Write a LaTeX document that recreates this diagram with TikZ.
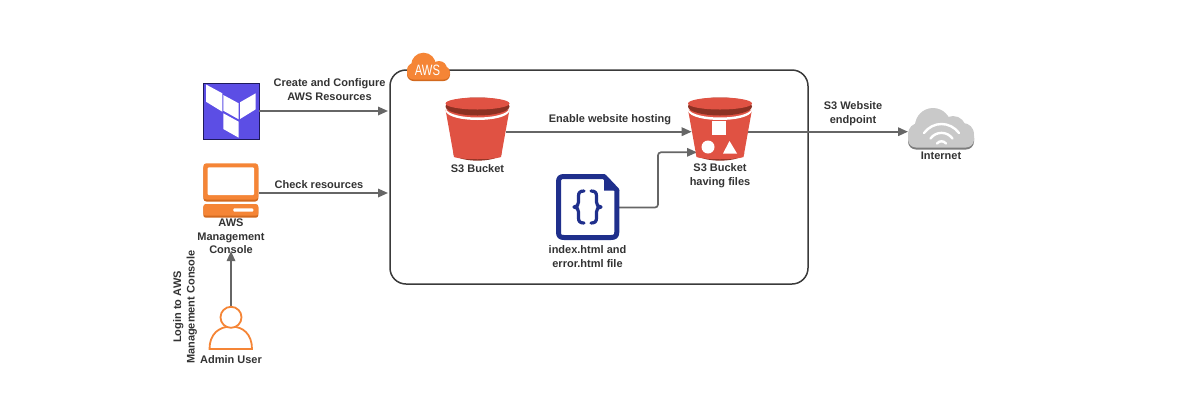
\documentclass[tikz,border=0pt]{standalone}
\usepackage{fontspec}
\setmainfont{Liberation Sans}
\usetikzlibrary{arrows.meta}
\definecolor{txt}{HTML}{333333}
\definecolor{conn}{HTML}{666666}
\definecolor{frame}{HTML}{3A3A3A}
\definecolor{tfblue}{HTML}{5C4EE5}
\definecolor{tfdark}{HTML}{1E1A5C}
\definecolor{orng}{HTML}{F58536}
\definecolor{orngd}{HTML}{D2691E}
\definecolor{s3red}{HTML}{E05243}
\definecolor{s3dark}{HTML}{8C3123}
\definecolor{navy}{HTML}{1F2F8C}
\definecolor{cloudl}{HTML}{C9C9C9}
\definecolor{cloudd}{HTML}{7D7D7D}
\tikzset{
  lbl/.style={font=\fontsize{11}{13.5}\selectfont\bfseries, text=txt, align=center, inner sep=0pt},
  conn/.style={draw=conn, line width=1.7pt, -{Triangle[length=10pt,width=8.5pt]}, rounded corners=3pt},
  slot/.style={inner sep=0pt, outer sep=0pt},
  bucket/.pic={
    \fill[s3dark] (-24.5,20) .. controls (-20,29.5) and (20,29.5) .. (24.5,20) -- cycle;
    \fill[s3red] (-32,-24) -- (-23.5,23.5) .. controls (-15,26.5) and (15,26.5) .. (23.5,23.5) -- (32,-24) -- cycle;
    \fill[white] (-32,-25) .. controls (-28,-13) and (28,-13) .. (32,-25) -- (32,-22.5) .. controls (28,-10.5) and (-28,-10.5) .. (-32,-22.5) -- cycle;
    \fill[s3dark] (0,-27) ellipse [x radius=32, y radius=9];
    \fill[s3red] (0,-30) ellipse [x radius=32, y radius=6];
  },
  aws cloud/.pic={
    \foreach \dy/\col in {1.5/orngd,0/orng}{
      \begin{scope}[yshift=-\dy pt]
        \fill[\col, rounded corners=6.5pt] (407,66) rectangle (450,79.5);
        \fill[\col] (423.5,65) circle [radius=12.3];
        \fill[\col] (439,69) circle [radius=8];
        \fill[\col] (414,70) circle [radius=7];
      \end{scope}
    }
  },
}
\begin{document}
\begin{tikzpicture}[x=1pt,y=-1pt]
\useasboundingbox (0,0) rectangle (1202,408);

% frame
\node[slot, draw=frame, line width=1.5pt, rounded corners=16pt, minimum width=418pt, minimum height=214pt] (aws) at (599,177) {};

% anchors for the connectors
\node[slot, draw=tfdark, fill=tfblue, line width=1pt, minimum width=56pt, minimum height=56pt] (tf) at (231,111) {};
\node[slot, minimum width=56pt, minimum height=42pt] (mon) at (231,193) {};
\node[slot, minimum width=44pt, minimum height=44pt] (user) at (231,329) {};
\node[slot, minimum width=56.6pt, minimum height=64pt] (b1) at (477.5,131.7) {};
\node[slot, minimum width=56.6pt, minimum height=64pt] (b2) at (720,131.7) {};
\node[slot, minimum width=63pt, minimum height=66pt] (file) at (587.5,207.5) {};
\node[slot, minimum width=66pt, minimum height=47.4pt] (inet) at (941,131.7) {};
\coordinate (b2in) at (697,152.3);
\coordinate (elbow) at (658,207.5);

% labels
\node[lbl] (tc) at (231,236.5) {AWS\\Management\\Console};
\node[lbl] (au) at (231,360) {Admin User};
\node[lbl, rotate=90] (lg) at (185,307) {Login to AWS\\Management Console};
\node[lbl] (cc) at (329.5,89.5) {Create and Configure\\AWS Resources};
\node[lbl] (cr) at (319,184.5) {Check resources};
\node[lbl] (s1) at (477.5,168.5) {S3 Bucket};
\node[lbl] (ew) at (610,119.5) {Enable website hosting};
\node[lbl] (s2) at (720,175.5) {S3 Bucket\\having files};
\node[lbl] (ix) at (587.5,256.5) {index.html and\\error.html file};
\node[lbl] (sw) at (853,113.5) {S3 Website\\endpoint};
\node[lbl] (in) at (941,156) {Internet};

% connectors
\draw[conn] (tf.east) -- ([xshift=-2pt]tf.east -| aws.west);
\draw[conn] (mon.east) -- ([xshift=-2pt]mon.east -| aws.west);
\draw[conn] (user.north) -- ([yshift=3pt]tc.south);
\draw[conn] (b1.east) -- (b2.west);
\draw[conn] (file.east) -- (elbow) -- (elbow |- b2in) -- (b2in);
\draw[conn] (b2.east) -- (inet.west);

% Terraform logo
\fill[white] (206,84.5) -- (222.3,93.3) -- (222.3,111.7) -- (206,101.7) -- cycle;
\fill[white] (223.3,95) -- (238.7,103.3) -- (238.7,119.3) -- (223.3,110.7) -- cycle;
\fill[white] (240,102.3) -- (255.7,93.3) -- (255.7,109.3) -- (240,119) -- cycle;
\fill[white] (223.3,113.3) -- (238.7,121.7) -- (238.7,137.7) -- (223.3,129) -- cycle;

% console
\fill[orngd, rounded corners=3pt] (203.3,165) rectangle (258.3,201.5);
\fill[orng, rounded corners=3pt] (203.3,163.3) rectangle (258.3,199.5);
\fill[white, rounded corners=1pt] (207.7,167.3) rectangle (254,195);
\fill[orngd, rounded corners=2.5pt] (203.3,205) rectangle (258.3,217.7);
\fill[orng, rounded corners=2.5pt] (203.3,204) rectangle (258.3,215.7);
\fill[white, rounded corners=1pt] (233.3,208.3) rectangle (253.3,211.7);

% user
\draw[orng, line width=1.8pt, fill=white] (209.5,349) .. controls (209.5,334) and (219,326.5) .. (231,326.5) .. controls (243,326.5) and (252,334) .. (252,349) -- cycle;
\draw[orng, line width=1.8pt, fill=white] (231,317.3) circle [radius=10.5];

% buckets
\pic at (477.5,133.5) {bucket};
\pic at (720,133.5) {bucket};
\fill[white] (711.5,121) rectangle (726,135);
\fill[white] (708,147) circle [radius=6.5];
\fill[white] (729.5,141) -- (737,153.5) -- (723,153.5) -- cycle;

% file
\draw[navy, line width=5pt, line join=round, fill=white] (564,176.5) -- (604,176.5) -- (616.8,190) -- (616.8,232) .. controls (616.8,236) and (615,237.5) .. (611,237.5) -- (564,237.5) .. controls (560,237.5) and (558.5,236) .. (558.5,232) -- (558.5,182) .. controls (558.5,178) and (560,176.5) .. (564,176.5) -- cycle;
\fill[navy] (604,174) -- (619.3,190.5) -- (604,190.5) -- cycle;
\draw[navy, line width=3.2pt, line cap=round, line join=round] (584,191) .. controls (580,191) and (578.5,192.5) .. (578.5,196) -- (578.5,202) .. controls (578.5,205) and (577,207) .. (574,207) .. controls (577,207) and (578.5,209) .. (578.5,212) -- (578.5,218) .. controls (578.5,221.5) and (580,223) .. (584,223);
\draw[navy, line width=3.2pt, line cap=round, line join=round] (591,191) .. controls (595,191) and (596.5,192.5) .. (596.5,196) -- (596.5,202) .. controls (596.5,205) and (598,207) .. (601,207) .. controls (598,207) and (596.5,209) .. (596.5,212) -- (596.5,218) .. controls (596.5,221.5) and (595,223) .. (591,223);

% AWS badge
\pic {aws cloud};
\node[slot, xscale=.75, font=\fontsize{15}{16}\selectfont, text=white] (awslbl) at (427.5,70.5) {AWS};

% internet cloud
\foreach \dy/\col in {2/cloudd,0/cloudl}{
  \begin{scope}[yshift=-\dy pt]
    \fill[\col, rounded corners=8pt] (908,128) rectangle (974,147.5);
    \fill[\col] (933,126) circle [radius=18];
    \fill[\col] (953,129) circle [radius=13];
    \fill[\col] (919,134) circle [radius=11];
    \fill[\col] (963,134) circle [radius=11];
  \end{scope}
}
\draw[white, line width=2.4pt, line cap=round] (924,133) .. controls (933,121) and (950,121) .. (959,133);
\draw[white, line width=2.4pt, line cap=round] (930.5,138.5) .. controls (936,131) and (947,131) .. (952.5,138.5);
\draw[white, line width=2.4pt, line cap=round] (937,143.5) .. controls (939.5,140.5) and (943.5,140.5) .. (946,143.5);
\end{tikzpicture}
\end{document}
